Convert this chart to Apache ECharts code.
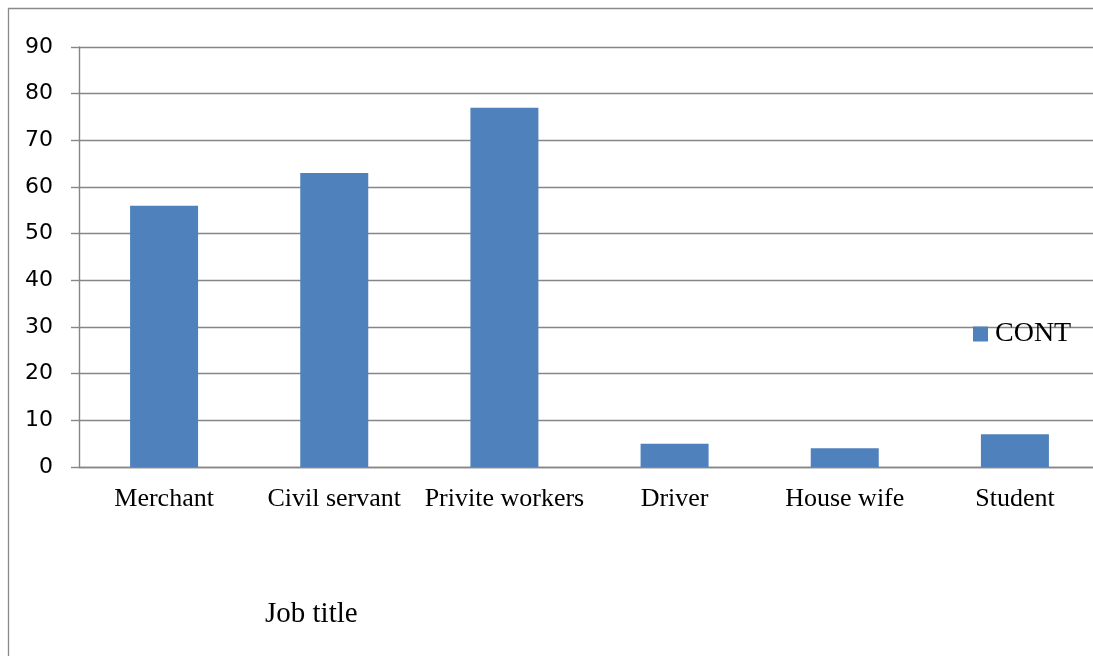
<!DOCTYPE html>
<html>
<head>
<meta charset="utf-8">
<script src="https://cdn.jsdelivr.net/npm/echarts@6/dist/echarts.min.js"></script>
<style>
html,body{margin:0;padding:0;background:#fff;overflow:hidden;width:1093px;height:656px;}
#c{width:1100px;height:656px;}
</style>
</head>
<body>
<div id="c"></div>
<script>
const categories = ['Merchant', 'Civil servant', 'Privite workers', 'Driver', 'House wife', 'Student'];
const contValues = [56, 63, 77, 5, 4, 7];
const seriesName = 'CONT';
const axisTitle = 'Job title';

const chart = echarts.init(document.getElementById('c'));
chart.setOption({
  animation: false,
  backgroundColor: '#ffffff',
  graphic: [{
    type: 'rect',
    shape: { x: 8.5, y: 8.5, width: 1200, height: 1000 },
    style: { fill: 'none', stroke: '#8a8a8a', lineWidth: 1.3 },
    silent: true
  }],
  title: {
    text: axisTitle,
    left: 265,
    top: 600,
    padding: 0,
    textStyle: { fontFamily: 'Liberation Serif', fontSize: 29, fontWeight: 'normal', color: '#000' }
  },
  legend: {
    data: [seriesName],
    left: 973,
    top: 320,
    padding: 0,
    icon: 'rect',
    itemWidth: 15,
    itemHeight: 15,
    textStyle: { fontFamily: 'Liberation Serif', fontSize: 28, color: '#000', padding: [0, 0, 0, 2] }
  },
  grid: { left: 79, right: 0, top: 47, bottom: 189, containLabel: false },
  xAxis: {
    type: 'category',
    data: categories,
    axisLine: { lineStyle: { color: '#868686', width: 1.4 } },
    axisTick: { length: 8, lineStyle: { color: '#868686', width: 1.4 } },
    axisLabel: { fontFamily: 'Liberation Serif', fontSize: 26, color: '#000', margin: 19, interval: 0 }
  },
  yAxis: {
    type: 'value',
    min: 0,
    max: 90,
    interval: 10,
    axisLine: { show: true, lineStyle: { color: '#868686', width: 1.4 } },
    axisTick: { show: true, length: 8, lineStyle: { color: '#868686', width: 1.4 } },
    axisLabel: { fontFamily: 'DejaVu Sans', fontSize: 22, color: '#000', margin: 26 },
    splitLine: { show: true, lineStyle: { color: '#868686', width: 1.4 } }
  },
  series: [{
    name: seriesName,
    type: 'bar',
    data: contValues,
    barWidth: 68,
    itemStyle: { color: '#4F81BD' }
  }]
});
</script>
</body>
</html>
